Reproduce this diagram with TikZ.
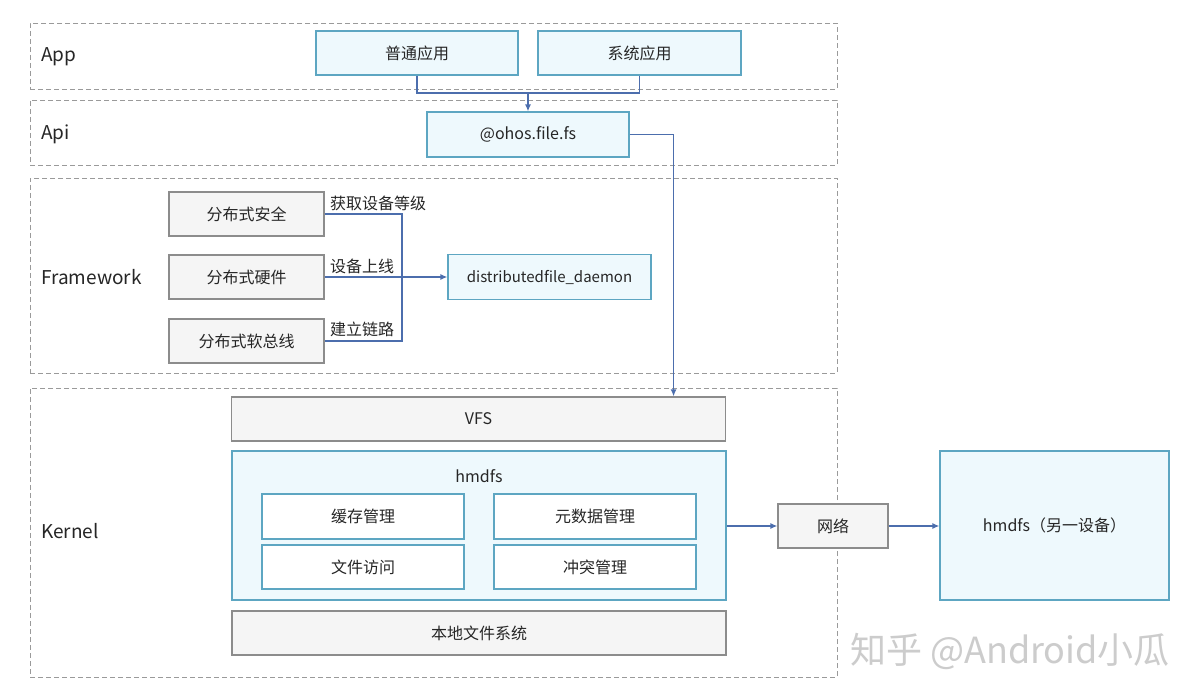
\documentclass[tikz,border=0pt]{standalone}
\usepackage{fontspec}
\setmainfont{Noto Sans CJK SC}
\usetikzlibrary{arrows.meta,positioning,calc}
\definecolor{bfill}{HTML}{EEF9FD}
\definecolor{bdraw}{HTML}{5DA6C2}
\definecolor{gfill}{HTML}{F5F5F5}
\definecolor{gdraw}{HTML}{8C8C8C}
\definecolor{ldraw}{HTML}{9A9A9A}
\definecolor{conn}{HTML}{4C6EAD}
\begin{document}
\begin{tikzpicture}[x=1pt,y=-1pt,
  layerbox/.style={draw=ldraw,dash pattern=on 5pt off 3pt,line width=0.8pt,inner sep=0pt},
  layerlabel/.style={anchor=west,font=\fontsize{19}{22}\selectfont,text=black!85,inner sep=0pt},
  boxfont/.style={font=\fontsize{16}{19}\selectfont,text=black!85},
  bluebox/.style={draw=bdraw,fill=bfill,line width=1.1pt,inner sep=0pt,boxfont},
  graybox/.style={draw=gdraw,fill=gfill,line width=1.1pt,inner sep=0pt,boxfont},
  whitebox/.style={draw=bdraw,fill=white,line width=1.1pt,inner sep=0pt,boxfont},
  edgelabel/.style={anchor=west,boxfont,inner sep=0pt},
  link/.style={draw=conn,line width=1.5pt},
  arr/.style={link,-{Latex[length=7pt,width=6pt]}}
]
\useasboundingbox[fill=white] (0,0) rectangle (1200,700);

% layers
\node[layerbox,minimum width=807pt,minimum height=66pt] (lapp) at (433.5,56) {};
\node[layerbox,minimum width=807pt,minimum height=65pt] (lapi) at (433.5,132.5) {};
\node[layerbox,minimum width=807pt,minimum height=195pt] (lfw) at (433.5,275.5) {};
\node[layerbox,minimum width=807pt,minimum height=289pt] (lk) at (433.5,532.5) {};
\node[layerlabel] (tapp) at (41,57) {App};
\node[layerlabel] (tapi) at (41,134) {Api};
\node[layerlabel] (tfw) at (41,277) {Framework};
\node[layerlabel] (tk) at (41,531) {Kernel};

% app
\node[bluebox,minimum width=202pt,minimum height=44pt] (app1) at (417,53) {普通应用};
\node[bluebox,minimum width=203pt,minimum height=44pt] (app2) at (639.5,53) {系统应用};
% api
\node[bluebox,minimum width=202pt,minimum height=45pt] (api) at (528,134.5) {@ohos.file.fs};
% framework
\node[graybox,minimum width=155pt,minimum height=44pt] (sec) at (246.5,214) {分布式安全};
\node[graybox,minimum width=155pt,minimum height=44pt] (hw) at (246.5,277) {分布式硬件};
\node[graybox,minimum width=155pt,minimum height=44pt] (bus) at (246.5,341) {分布式软总线};
\node[bluebox,minimum width=203pt,minimum height=45pt,font=\fontsize{15}{18}\selectfont] (daemon) at (549.5,277) {distributedfile\_daemon};
% kernel
\node[graybox,minimum width=494pt,minimum height=44pt] (vfs) at (478.5,419) {VFS};
\node[bluebox,minimum width=494pt,minimum height=149pt] (hmdfs) at (479,525.5) {};
\node[boxfont] (thm) at (479,476) {hmdfs};
\node[whitebox,minimum width=202pt,minimum height=45pt] (cache) at (363,516.5) {缓存管理};
\node[whitebox,minimum width=202pt,minimum height=45pt] (meta) at (595,516.5) {元数据管理};
\node[whitebox,minimum width=202pt,minimum height=44pt] (facc) at (363,567) {文件访问};
\node[whitebox,minimum width=202pt,minimum height=44pt] (confl) at (595,567) {冲突管理};
\node[graybox,minimum width=494pt,minimum height=44pt] (local) at (479,633) {本地文件系统};
\node[graybox,minimum width=110pt,minimum height=44pt] (net) at (833,526) {网络};
\node[bluebox,minimum width=229pt,minimum height=149pt] (remote) at (1054.5,525.5) {hmdfs（另一设备）};

% connectors
\coordinate (japp) at (528,93);
\draw[link] (app1.south) |- (japp) -| (app2.south);
\draw[arr] (japp) -- (api.north);
\draw[arr] (api.east) -| ([xshift=-52.5pt]vfs.north east);
\coordinate (jfw) at (402,277);
\draw[link] (sec.east) -| (jfw) |- (bus.east);
\draw[arr] (hw.east) -- (daemon.west);
\draw[arr] (hmdfs.east |- net.west) -- (net.west);
\draw[arr] (net.east) -- (remote.west |- net.east);

\node[edgelabel] (l1) at (330,203) {获取设备等级};
\node[edgelabel] (l2) at (330,266) {设备上线};
\node[edgelabel] (l3) at (330,329) {建立链路};

% watermark
\node[font=\fontsize{36}{40}\selectfont,text=black!20,anchor=center] (wm) at (1010,651) {知乎 @Android小瓜};
\end{tikzpicture}
\end{document}
